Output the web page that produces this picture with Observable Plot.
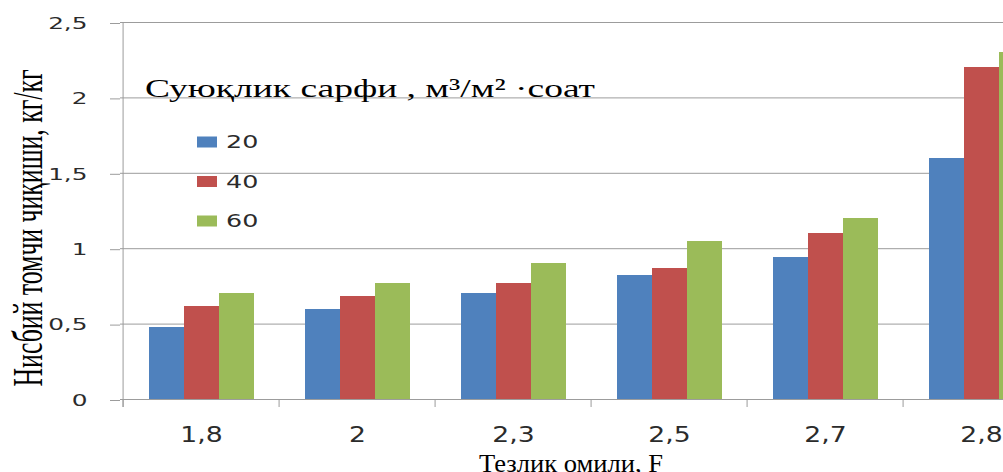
<!DOCTYPE html>
<html><head><meta charset="utf-8">
<script src="https://cdn.jsdelivr.net/npm/d3@7"></script>
<script src="https://cdn.jsdelivr.net/npm/@observablehq/plot@0.6"></script>
<style>
html,body{margin:0;padding:0;background:#fff;overflow:hidden;width:1003px;height:472px}
#chart svg{display:block;max-width:none !important}
</style>
</head><body><div id="chart"></div>
<script>
// ---- data ----
const categories = ["1,8", "2", "2,3", "2,5", "2,7", "2,8"];
const series = ["20", "40", "60"];
const values20 = [0.48, 0.60, 0.70, 0.82, 0.94, 1.60];
const values40 = [0.62, 0.68, 0.77, 0.87, 1.10, 2.20];
const values60 = [0.70, 0.77, 0.90, 1.05, 1.20, 2.30];
const yTicks = [0, 0.5, 1, 1.5, 2, 2.5];
const seriesColors = ["#4F81BD", "#C0504D", "#9BBB59"];
const yTitle = "Нисбий томчи чиқиши, кг/кг";
const xTitle = "Тезлик омили, F";
const legendTitle = "Суюқлик сарфи , м³/м² ·соат";

const seriesValues = [values20, values40, values60];
const rows = categories.flatMap((c, i) => series.map((s, j) => ({cat: c, series: s, value: seriesValues[j][i]})));

// ---- layout ----
const W = 1100, H = 472, ML = 120, MR = 39, MT = 22, MB = 73;
const bw = (W - ML - MR) / categories.length;
const barW = 35;
const groupOff = (bw - series.length * barW) / 2;
const grid = "#9c9c9c";
const ink = "#2b2b2b";

const plot = Plot.plot({
  width: W, height: H,
  marginLeft: ML, marginRight: MR, marginTop: MT, marginBottom: MB,
  style: {fontFamily: "DejaVu Sans", background: "#fff", maxWidth: "none"},
  x: {type: "band", domain: categories, padding: 0, axis: null, label: null},
  y: {domain: [0, 2.5], axis: null, label: null},
  color: {domain: series, range: seriesColors},
  marks: [
    Plot.gridY(yTicks, {stroke: grid, strokeOpacity: 1, strokeWidth: 1}),
    Plot.axisY(yTicks, {tickSize: 10, tickPadding: 23, stroke: grid, strokeOpacity: 1, fill: ink, fontSize: 16.5,
      tickFormat: d => String(d).replace(".", ","), dy: 1, label: null}),
    ...series.map((s, j) => Plot.barY(rows.filter(d => d.series === s), {
      x: "cat", y: "value", fill: "series", shapeRendering: "crispEdges",
      insetLeft: groupOff + j * barW, insetRight: bw - groupOff - (j + 1) * barW - 0.6
    })),
    Plot.ruleX(categories, {x: d => d, dx: -bw / 2, y1: 0, y2: 0, insetBottom: -8, stroke: grid}),
    Plot.ruleX(categories.slice(0, 1), {x: d => d, dx: -bw / 2, y1: 2.5, y2: 0, insetBottom: -8, stroke: grid}),
    Plot.ruleY([0], {stroke: grid}),
    Plot.axisX({tickSize: 0, tickPadding: 28, fill: ink, fontSize: 20.5, stroke: "none", label: null})
  ]
});

document.getElementById("chart").appendChild(plot);
const svg = d3.select(plot);

function stretch(sel, factor) {
  sel.each(function () {
    const len = this.getComputedTextLength();
    this.setAttribute("textLength", len * factor);
    this.setAttribute("lengthAdjust", "spacingAndGlyphs");
  });
}
// stretch axis tick labels (the reference is widened horizontally)
svg.selectAll("g[aria-label='y-axis tick label'] text").call(stretch, 1.5);
svg.selectAll("g[aria-label='x-axis tick label'] text").call(stretch, 1.3);

// ---- annotations: axis titles and legend ----
const color = plot.scale("color");
const ann = svg.append("g").attr("fill", "#000").attr("text-anchor", "start");

ann.append("text")
  .attr("transform", "translate(42,228) scale(1.55,1) rotate(-90)")
  .attr("text-anchor", "middle")
  .attr("font-family", "Liberation Serif")
  .attr("font-size", 27)
  .attr("textLength", 317).attr("lengthAdjust", "spacingAndGlyphs")
  .text(yTitle);

ann.append("text")
  .attr("x", 479).attr("y", 472)
  .attr("font-family", "Liberation Serif")
  .attr("font-size", 26)
  .attr("textLength", 184).attr("lengthAdjust", "spacingAndGlyphs")
  .text(xTitle);

ann.append("text")
  .attr("x", 145).attr("y", 97)
  .attr("font-family", "Liberation Serif")
  .attr("font-size", 26)
  .attr("textLength", 450).attr("lengthAdjust", "spacingAndGlyphs")
  .text(legendTitle);

const leg = ann.append("g");
series.forEach((s, j) => {
  const cy = 142 + j * 39.5;
  leg.append("rect").attr("x", 197).attr("y", cy - 5.5).attr("width", 20).attr("height", 11).attr("fill", color.apply(s));
  leg.append("text").attr("x", 226).attr("y", cy).attr("dy", "0.36em")
    .attr("font-family", "DejaVu Sans").attr("font-size", 17.5).attr("fill", ink)
    .text(s);
});
leg.selectAll("text").call(stretch, 1.45);
</script>
</body></html>
